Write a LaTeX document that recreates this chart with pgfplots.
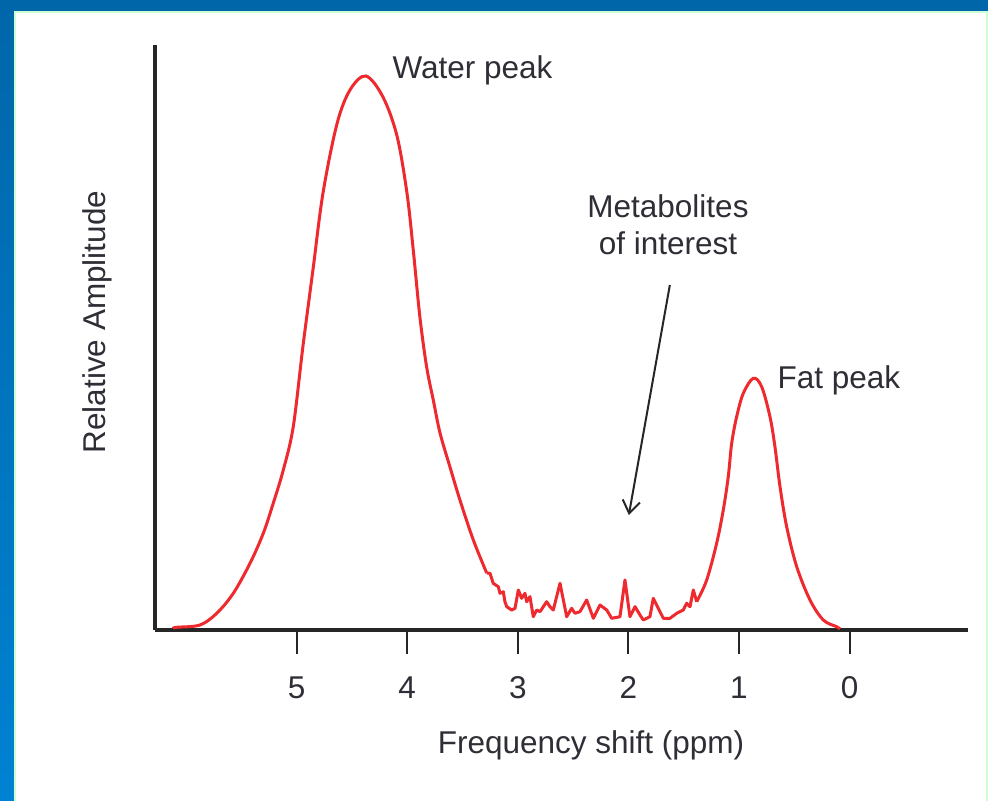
\documentclass[border=0pt]{standalone}
\usepackage{fontspec}
\setmainfont{Liberation Sans}
\usepackage{pgfplots}
\pgfplotsset{compat=1.18}
\usetikzlibrary{arrows.meta}
\definecolor{frameblueA}{HTML}{0066AA}
\definecolor{frameblueB}{HTML}{0082D2}
\definecolor{framegreen}{HTML}{CCFFD6}
\definecolor{curvered}{HTML}{EE2A2E}
\definecolor{txt}{HTML}{2E2E36}
\newcommand{\lbl}{\fontsize{12.6}{15}\selectfont}
\begin{document}
\begin{tikzpicture}
\useasboundingbox (0,0) rectangle (395.2pt,320.4pt);
% frame
\shade[top color=frameblueA, bottom color=frameblueB] (0,0) rectangle (395.2pt,320.4pt);
\fill[framegreen] (5.4pt,0) rectangle (395.2pt,315.9pt);
\fill[white] (6.2pt,0) rectangle (394.4pt,315.1pt);
\begin{axis}[
  at={(62pt,68.4pt)}, anchor=south west,
  scale only axis, width=325.2pt, height=234pt,
  x dir=reverse,
  xmin=-1.0705, xmax=6.280, ymin=0, ymax=585,
  axis x line=bottom, axis y line=left,
  axis line style={-, line width=1.8pt, color=black!85},
  ytick=\empty,
  xtick={0,1,2,3,4,5},
  tick align=outside, major tick length=9.6pt,
  tick style={line width=0.8pt, color=black!85},
  /pgf/number format/assume math mode=true,
  xticklabel style={font=\lbl, text=txt, yshift=-5.4pt},
  clip=false,
]
% water peak (smooth)
\addplot[curvered, line width=1.2pt, smooth, tension=0.55] coordinates {
(6.118,1.5) (6.084,2.7) (5.873,5) (5.722,16.7) (5.572,36.7) (5.421,66.7)
(5.301,96.7) (5.211,126.7) (5.120,160) (5.030,203.3)
(4.942,284) (4.852,360) (4.761,437) (4.635,506) (4.517,540) (4.373,554)
(4.219,533) (4.092,494) (4.002,437) (3.945,380) (3.885,313) (3.824,263)
(3.764,230) (3.703,197) (3.613,163) (3.523,130) (3.402,90) (3.281,57)
};
% metabolite region (noisy)
\addplot[curvered, line width=1.2pt, line join=round] coordinates {
(3.281,57) (3.251,56.7) (3.222,46.7) (3.176,43.3) (3.161,36.7) (3.131,38.3)
(3.116,28.3) (3.100,23.3) (3.055,20) (3.025,21.7) (2.995,40) (2.965,31.7)
(2.935,36.7) (2.920,28.3) (2.890,33.3) (2.860,13.3) (2.829,20) (2.799,18.3)
(2.769,23.3) (2.739,28.3) (2.709,23.3) (2.679,20) (2.618,46.7) (2.558,13.3)
(2.513,21.7) (2.483,16.7) (2.438,18.3) (2.377,30) (2.317,11.7) (2.257,25)
(2.196,20) (2.151,11.7) (2.076,13.3) (2.031,50) (1.986,13.3) (1.940,23.3)
(1.895,15) (1.865,10) (1.805,13.3) (1.775,31.7) (1.714,18.3) (1.684,11.7)
(1.624,11.7) (1.563,16.7) (1.504,20) (1.473,26.7) (1.443,23.3) (1.413,40)
(1.382,28.3)
};
% fat peak (smooth)
\addplot[curvered, line width=1.2pt, smooth, tension=0.55] coordinates {
(1.382,28.3) (1.292,50) (1.202,86.7) (1.142,120) (1.097,153.3) (1.066,186.7)
(1.021,213.3) (0.961,236.7) (0.871,251.7) (0.795,243.3) (0.720,213.3)
(0.675,183.3) (0.629,143.3) (0.569,103.3) (0.478,63.3) (0.358,30)
(0.238,10) (0.117,3.3) (0.087,1)
};
\node[anchor=west, font=\lbl, text=txt, inner sep=0] at (axis cs:4.137,560) {Water peak};
\node[anchor=west, font=\lbl, text=txt, inner sep=0] at (axis cs:0.656,250) {Fat peak};
\node[align=center, font=\lbl, text=txt, inner sep=0] at (axis cs:1.642,405) {Metabolites\\of interest};
\draw[line width=0.8pt, black!85, -{Straight Barb[length=5pt,width=7pt]}] (axis cs:1.625,345) -- (axis cs:1.996,115);
\end{axis}
\node[font=\lbl, text=txt, rotate=90] at (38.8pt,191.6pt) {Relative Amplitude};
\node[font=\lbl, text=txt] at (236.4pt,22.4pt) {Frequency shift (ppm)};
\end{tikzpicture}
\end{document}
